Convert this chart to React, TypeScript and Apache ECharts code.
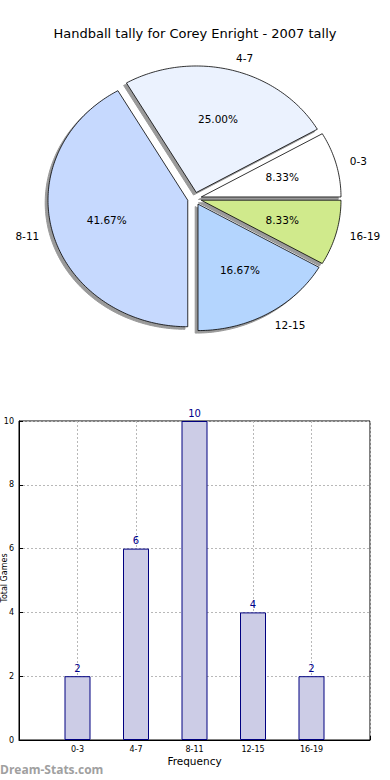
import React, { useEffect, useRef } from "react";
import * as echarts from "echarts";

const categories = ["0-3", "4-7", "8-11", "12-15", "16-19"];
const counts = [2, 6, 10, 4, 2];
const sliceColors = ["#ffffff", "#ebf2fe", "#c6d9fe", "#b4d5fe", "#d0ea8c"];

const FONT = "DejaVu Sans";

export default function App() {
  const ref = useRef<HTMLDivElement>(null);
  useEffect(() => {
    if (!ref.current) return;
    const chart = echarts.init(ref.current, null, { renderer: "svg" });
    const total = counts.reduce((a, b) => a + b, 0);
    const cum: number[] = [];
    counts.reduce((acc, v, i) => {
      cum[i] = acc;
      return acc + v;
    }, 0);

    const CX = 194.5;
    const CY = 198.6;
    const SX = 139.75;
    const SY = 126.5;
    const EXPLODE = 0.05;
    const rad = (d: number) => (d * Math.PI) / 180;

    const slicePoints = (i: number, v: number, dx: number, dy: number) => {
      const a0 = (cum[i] / total) * 360;
      const a1 = ((cum[i] + v) / total) * 360;
      const mid = (a0 + a1) / 2;
      const ox = CX + SX * EXPLODE * Math.cos(rad(mid)) + dx;
      const oy = CY - SY * EXPLODE * Math.sin(rad(mid)) + dy;
      const pts: number[][] = [[ox, oy]];
      const steps = Math.max(8, Math.ceil(a1 - a0));
      for (let k = 0; k <= steps; k++) {
        const a = a0 + ((a1 - a0) * k) / steps;
        pts.push([ox + SX * Math.cos(rad(a)), oy - SY * Math.sin(rad(a))]);
      }
      return { pts, mid, ox, oy };
    };

    const pieData = counts.map((v, i) => ({ name: categories[i], value: v }));

    const gridLine = { show: true, lineStyle: { color: "#b8b8b8", type: [2, 2] } };

    chart.setOption({
      animation: false,
      title: {
        text: "Handball tally for Corey Enright - 2007 tally",
        left: "center",
        top: 22,
        textStyle: { fontFamily: FONT, fontSize: 13, fontWeight: "normal", color: "#000" },
      },
      grid: {
        left: 19,
        top: 421,
        width: 351,
        height: 319,
        show: true,
        borderColor: "#000",
        borderWidth: 1,
        backgroundColor: "transparent",
      },
      xAxis: {
        type: "value",
        min: -1,
        max: 5,
        interval: 1,
        name: "Frequency",
        nameLocation: "middle",
        nameGap: 15,
        nameTextStyle: { fontFamily: FONT, fontSize: 10.5, color: "#000" },
        axisLine: { show: true, onZero: false, lineStyle: { color: "#000" } },
        axisTick: { show: true, inside: true, length: 4, lineStyle: { color: "#000" } },
        axisLabel: {
          fontFamily: FONT,
          fontSize: 8,
          color: "#000",
          margin: 5,
          formatter: (v: number) => categories[v] ?? "",
        },
        splitLine: gridLine,
      },
      yAxis: {
        type: "value",
        min: 0,
        max: 10,
        interval: 2,
        axisLine: { show: true, onZero: false, lineStyle: { color: "#000" } },
        axisTick: { show: true, inside: true, length: 4, lineStyle: { color: "#000" } },
        axisLabel: { fontFamily: FONT, fontSize: 8, color: "#000", margin: 5 },
        splitLine: gridLine,
      },
      graphic: [
        {
          type: "text",
          left: 0,
          top: 763,
          style: {
            text: "Dream-Stats.com",
            fontFamily: "Open Sans",
            fontSize: 12,
            fontWeight: "bold",
            fill: "#a0a0a0",
          },
        },
        {
          type: "text",
          x: 0,
          y: 578,
          rotation: Math.PI / 2,
          style: {
            text: "Total Games",
            fontFamily: FONT,
            fontSize: 8,
            fill: "#000",
            align: "center",
            verticalAlign: "top",
          },
        },
      ],
      series: [
        {
          type: "bar",
          data: counts.map((v, i) => [i, v]),
          barWidth: 26,
          itemStyle: { color: "#ccccE6", borderColor: "#000080", borderWidth: 1 },
          label: {
            show: true,
            position: "top",
            distance: 3,
            fontFamily: FONT,
            fontSize: 10,
            color: "#00008b",
            formatter: (p: any) => String(p.value[1]),
          },
          z: 3,
        },
        {
          type: "custom",
          coordinateSystem: "none",
          data: pieData,
          z: 1,
          renderItem: (params: any, api: any) => {
            const i = params.dataIndex;
            const v = api.value(0);
            const { pts } = slicePoints(i, v, -0.02 * SX, 0.02 * SY);
            return {
              type: "polygon",
              shape: { points: pts },
              style: { fill: "#9a9a9a", stroke: "#9a9a9a", lineWidth: 1 },
            };
          },
        },
        {
          type: "custom",
          coordinateSystem: "none",
          data: pieData,
          z: 2,
          renderItem: (params: any, api: any) => {
            const i = params.dataIndex;
            const v = api.value(0);
            const { pts, mid, ox, oy } = slicePoints(i, v, 0, 0);
            const c = Math.cos(rad(mid));
            const s = Math.sin(rad(mid));
            const lx = ox + SX * 1.1 * c;
            const ly = oy - SY * 1.1 * s;
            const px = ox + SX * 0.6 * c;
            const py = oy - SY * 0.6 * s;
            return {
              type: "group",
              children: [
                {
                  type: "polygon",
                  shape: { points: pts },
                  style: { fill: sliceColors[i], stroke: "#000", lineWidth: 0.8 },
                },
                {
                  type: "text",
                  x: lx,
                  y: ly,
                  style: {
                    text: categories[i],
                    fontFamily: FONT,
                    fontSize: 10.5,
                    fill: "#000",
                    align: c >= 0 ? "left" : "right",
                    verticalAlign: "middle",
                  },
                },
                {
                  type: "text",
                  x: px,
                  y: py,
                  style: {
                    text: ((v / total) * 100).toFixed(2) + "%",
                    fontFamily: FONT,
                    fontSize: 10.5,
                    fill: "#000",
                    align: "center",
                    verticalAlign: "middle",
                  },
                },
              ],
            };
          },
        },
      ],
    });
    return () => chart.dispose();
  }, []);
  return (
    <div
      ref={ref}
      style={{ position: "absolute", left: 0, top: 0, width: 390, height: 780, background: "#fff" }}
    />
  );
}
